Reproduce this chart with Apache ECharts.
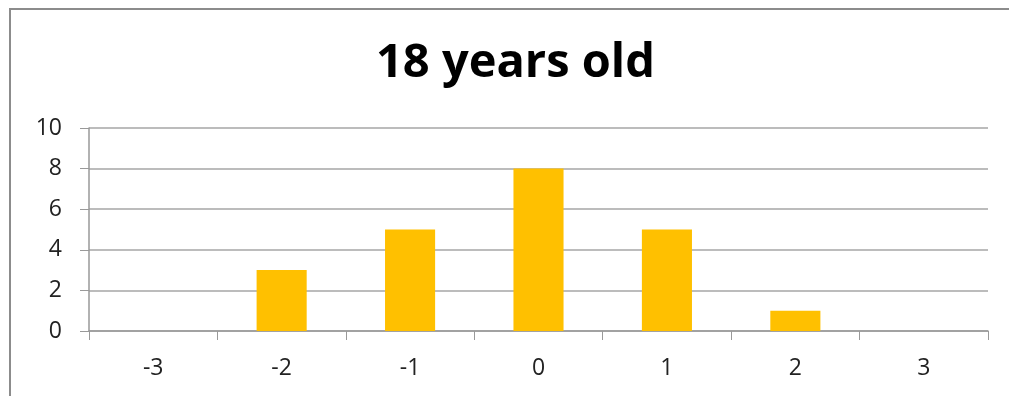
<!DOCTYPE html>
<html>
<head>
<meta charset="utf-8">
<script src="https://cdn.jsdelivr.net/npm/echarts@6/dist/echarts.min.js"></script>
<style>
  html, body { margin: 0; padding: 0; background: #fff; }
  #chart { width: 1009px; height: 396px; }
</style>
</head>
<body>
<div id="chart"></div>
<script>
// categories on the x axis
const categories = ['-3', '-2', '-1', '0', '1', '2', '3'];
// counts per category
const counts = [0, 3, 5, 8, 5, 1, 0];
const titleText = '18 years old';

let chartDom = document.querySelector('#chart');
let myChart = echarts.init(chartDom);

myChart.setOption({
    animation: false,
    color: ['#FFC000'],
    title: {
        text: titleText,
        left: 371,
        top: 35,
        textStyle: {
            fontFamily: 'Open Sans',
            fontWeight: 'bold',
            fontSize: 47,
            color: '#000',
        },
    },
    // outer frame of the chart
    graphic: [
        {
            type: 'rect',
            shape: { x: 10, y: 9, width: 1010, height: 400 },
            style: { fill: 'none', stroke: '#8c8c8c', lineWidth: 2 },
            silent: true,
        },
    ],
    grid: {
        left: 89,
        right: 21,
        top: 128,
        bottom: 65,
    },
    xAxis: {
        type: 'category',
        data: categories,
        axisTick: {
            show: true,
            alignWithLabel: false,
            length: 9,
            lineStyle: { color: '#999' },
        },
        axisLine: {
            lineStyle: { color: '#999', width: 1.5 },
        },
        axisLabel: {
            margin: 26,
            fontSize: 23,
            fontFamily: 'Open Sans',
            color: '#222',
        },
    },
    yAxis: {
        type: 'value',
        min: 0,
        max: 10,
        interval: 2,
        axisLine: {
            show: true,
            lineStyle: { color: '#999', width: 1.5 },
        },
        axisTick: {
            show: true,
            length: 9,
            lineStyle: { color: '#999' },
        },
        axisLabel: {
            margin: 27,
            fontSize: 23,
            fontFamily: 'Open Sans',
            color: '#222',
        },
        splitLine: {
            lineStyle: { color: '#a6a6a6', width: 1.5 },
        },
    },
    series: [
        {
            type: 'bar',
            barWidth: '39%',
            data: counts,
        },
    ],
});
</script>
</body>
</html>
